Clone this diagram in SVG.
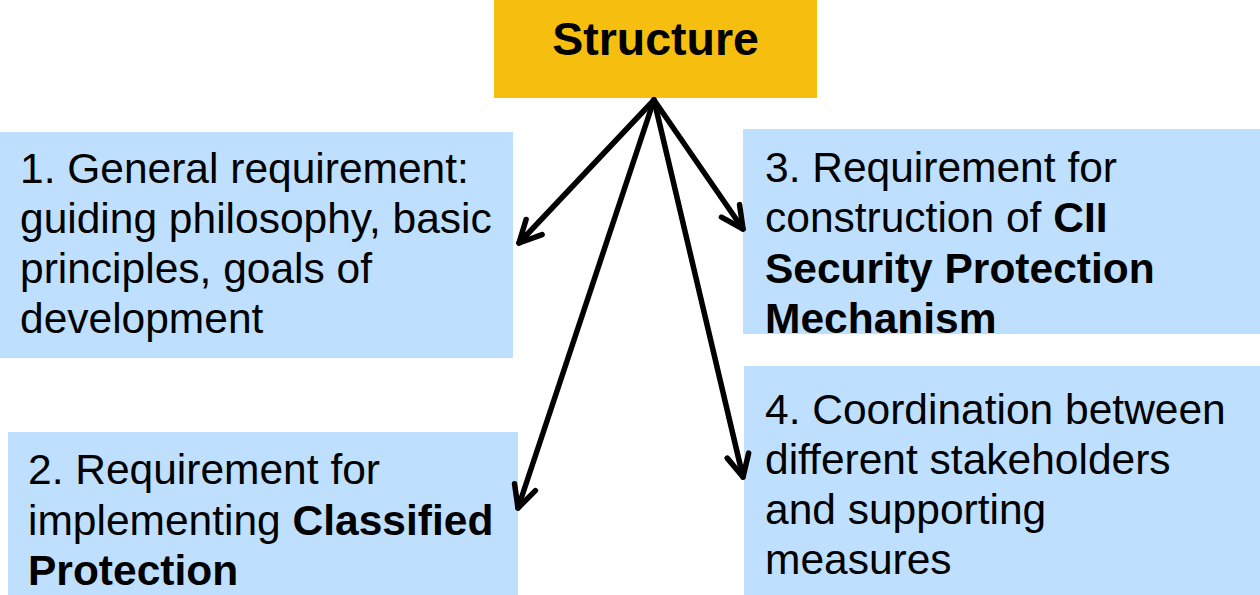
<svg xmlns="http://www.w3.org/2000/svg" width="1260" height="595" viewBox="0 0 1260 595">
  <style>
    .box { fill: #BEDFFD; }
    .head { fill: #F6BE0E; }
    .txt { font-family: "Liberation Sans", Arial, sans-serif; font-size: 42.5px; fill: #000; }
    .title { font-family: "Liberation Sans", Arial, sans-serif; font-size: 46.5px; font-weight: bold; fill: #000; }
    .b { font-weight: bold; }
    .conn { fill: none; stroke: #000; stroke-width: 5.5; stroke-linecap: round; marker-end: url(#arrow); }
  </style>
  <defs>
    <!-- open V arrowhead, drawn in user units so it keeps its size -->
    <marker id="arrow" markerUnits="userSpaceOnUse" viewBox="-30 -16 36 32" refX="0" refY="0" markerWidth="36" markerHeight="32" orient="auto" overflow="visible">
      <path d="M -22 -11 L 0 0 L -22 11" fill="none" stroke="#000" stroke-width="5.5" stroke-linecap="round" stroke-linejoin="round"/>
    </marker>
  </defs>

  <rect width="1260" height="595" fill="#fff"/>

  <g id="structure">
    <rect class="head" x="494" y="0" width="323" height="98"/>
    <text class="title" x="655.5" y="55" text-anchor="middle">Structure</text>
  </g>

  <g id="general-requirement">
    <rect class="box" x="0" y="132" width="513" height="226"/>
    <text class="txt" x="20" y="183">1. General requirement:</text>
    <text class="txt" x="20" y="233">guiding philosophy, basic</text>
    <text class="txt" x="20" y="283">principles, goals of</text>
    <text class="txt" x="20" y="333">development</text>
  </g>

  <g id="classified-protection">
    <rect class="box" x="8" y="432" width="510" height="163"/>
    <text class="txt" x="28" y="484">2. Requirement for</text>
    <text class="txt" x="28" y="535">implementing <tspan class="b">Classified</tspan></text>
    <text class="txt b" x="28" y="585">Protection</text>
  </g>

  <g id="cii-mechanism">
    <rect class="box" x="743" y="129" width="517" height="205"/>
    <text class="txt" x="765" y="182">3. Requirement for</text>
    <text class="txt" x="765" y="232">construction of <tspan class="b">CII</tspan></text>
    <text class="txt b" x="765" y="283">Security Protection</text>
    <text class="txt b" x="765" y="333">Mechanism</text>
  </g>

  <g id="coordination">
    <rect class="box" x="744" y="366" width="516" height="229"/>
    <text class="txt" x="765" y="424">4. Coordination between</text>
    <text class="txt" x="765" y="474">different stakeholders</text>
    <text class="txt" x="765" y="524">and supporting</text>
    <text class="txt" x="765" y="574">measures</text>
  </g>

  <g id="connectors">
    <path class="conn" d="M 654 100 L 519 243"/>
    <path class="conn" d="M 654 100 L 518 508"/>
    <path class="conn" d="M 654 100 L 743 229"/>
    <path class="conn" d="M 654 100 L 743 477"/>
  </g>
</svg>
